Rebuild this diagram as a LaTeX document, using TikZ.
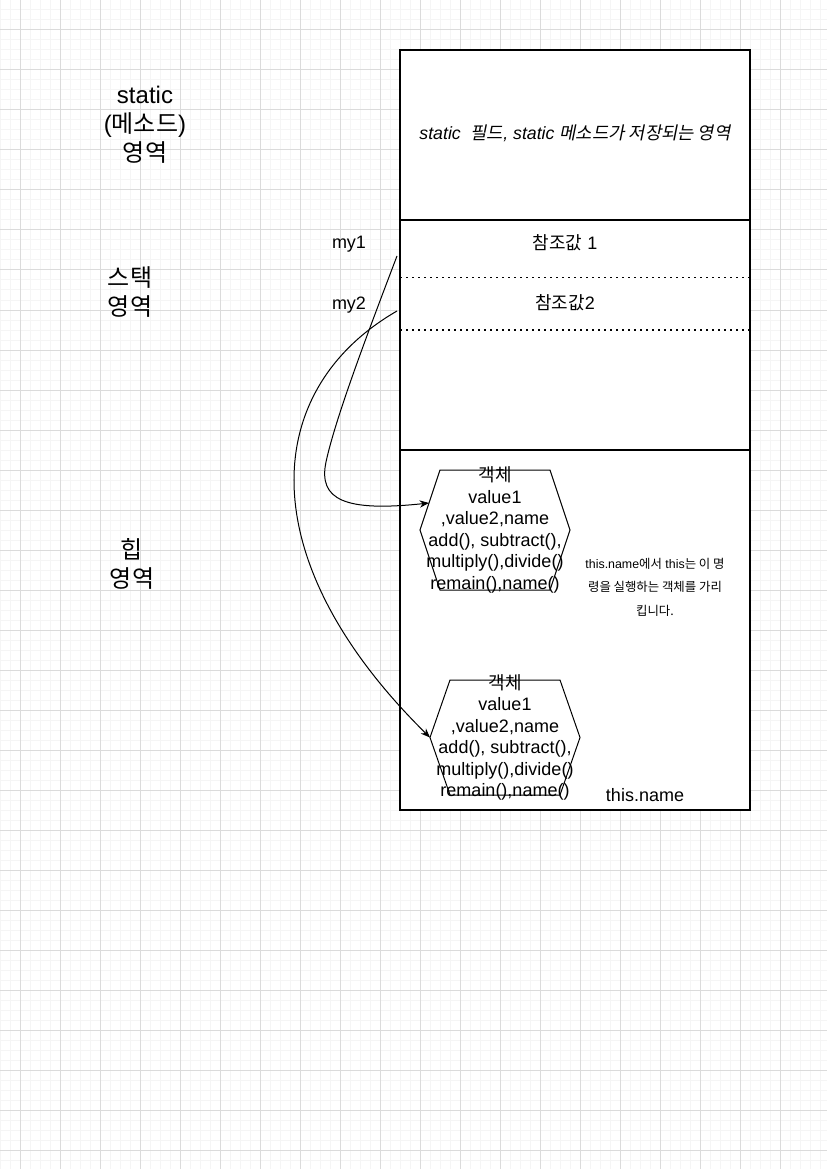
\documentclass[tikz,border=0pt]{standalone}
\usepackage{fontspec}
\setmainfont{Liberation Sans}
\newfontfamily\krfont{Noto Sans CJK KR}
\newfontfamily\kritfont{Noto Sans CJK KR}[FakeSlant=0.2]
\newcommand\ko[1]{{\krfont #1}}
\newcommand\koit[1]{{\kritfont #1}}
\usetikzlibrary{arrows.meta}
\usetikzlibrary{calc}

\begin{document}
\begin{tikzpicture}[x=0.75pt, y=-0.75pt, semithick]
  \tikzstyle{minorgrid}=[draw=black!4, line width=0.75pt]
  \tikzstyle{majorgrid}=[draw=black!14, line width=0.75pt]
  \tikzstyle{area}=[draw, line width=1pt]
  \tikzstyle{sep}=[line width=1.3pt, dash pattern=on 1.3pt off 3.2pt]
  \tikzstyle{hexa}=[draw, line width=0.75pt]
  \tikzstyle{ref}=[line width=0.75pt, -{Stealth[length=7pt,width=5.5pt]}]
  \tikzstyle{biglbl}=[inner sep=0pt, align=center, font=\fontsize{18}{21.6}\selectfont]
  \tikzstyle{lbl}=[inner sep=0pt, font=\fontsize{13.5}{16.2}\selectfont]
  \tikzstyle{desc}=[inner sep=0pt, font=\fontsize{13.3}{16}\selectfont]
  \tikzstyle{objtxt}=[inner sep=0pt, align=center, font=\fontsize{13.5}{16.1}\selectfont]
  \tikzstyle{note}=[inner sep=0pt, align=center, font=\fontsize{9.3}{17.6}\selectfont]
\useasboundingbox (0,0) rectangle (827,1169);
% grid
\foreach \gx in {0,10,...,820}
    \draw[minorgrid] (\gx,0) -- (\gx,1169);
\foreach \gy in {0,10,...,1160}
    \draw[minorgrid] (0,\gy) -- (827,\gy);
\foreach \gx in {20,60,...,780}
    \draw[majorgrid] (\gx,0) -- (\gx,1169);
\foreach \gy in {30,70,...,1150}
    \draw[majorgrid] (0,\gy) -- (827,\gy);

% memory areas
\draw[area, fill=white] (400,50) rectangle (750,810);
\draw[area] (400,220) -- (750,220);
\draw[area] (400,450) -- (750,450);
\draw[sep] (400,277.5) -- (750,277.5);
\draw[sep] (400,330) -- (750,330);

\node[biglbl] (staticlbl) at (145,125) {static\\(\ko{메소드})\\\ko{영역}};
\node[biglbl] (stacklbl) at (130,292) {\ko{스택}\\\ko{영역}};
\node[biglbl] (heaplbl) at (132,564) {\ko{힙}\\\ko{영역}};

\node[desc] (staticdesc) at (575,133) {\textit{static}\ \ \koit{필드}\textit{, static} \koit{메소드가 저장되는 영역}};
\node[lbl] (ref1) at (565,243) {\ko{참조값} 1};
\node[lbl] (ref2) at (565,303) {\ko{참조값}2};
\node[lbl] (my1) at (349,244) {my1};
\node[lbl] (my2) at (349,305) {my2};

% objects
\coordinate (o1nw) at (440,470);
\coordinate (o1ne) at (550,470);
\coordinate (o1e) at (570,530);
\coordinate (o1se) at (550,590);
\coordinate (o1sw) at (440,590);
\coordinate (o1w) at (420,530);
\draw[hexa] (o1nw) -- (o1ne) -- (o1e) -- (o1se) -- (o1sw) -- (o1w) -- cycle;
\coordinate (o2nw) at (450,680);
\coordinate (o2ne) at (560,680);
\coordinate (o2e) at (580,737.5);
\coordinate (o2se) at (560,795);
\coordinate (o2sw) at (450,795);
\coordinate (o2w) at (430,737.5);
\draw[hexa] (o2nw) -- (o2ne) -- (o2e) -- (o2se) -- (o2sw) -- (o2w) -- cycle;

\node[objtxt] (obj1) at (495,530) {\ko{객체}\\value1\\,value2,name\\add(), subtract(),\\multiply(),divide()\\remain(),name()};
\node[objtxt] (obj2) at (505,737.5) {\ko{객체}\\value1\\,value2,name\\add(), subtract(),\\multiply(),divide()\\remain(),name()};

\node[note] (thisnote) at (655,587) {this.name\ko{에서} this\ko{는 이 명}\\\ko{령을 실행하는 객체를 가리}\\\ko{킵니다.}};
\node[lbl] (thisname) at (645,795) {this.name};

% references
\coordinate (my1out) at (397,256);
\coordinate (my2out) at (397,311);
\coordinate (o1in) at ($(o1nw)!0.55!(o1w)$);
\draw[ref] (my1out) .. controls (365,340) and (335,420) .. (326,462)
    .. controls (318,500) and (345,512) .. (o1in);
\draw[ref] (my2out) .. controls (260,390) and (250,560) .. (o2w);
\end{tikzpicture}
\end{document}
